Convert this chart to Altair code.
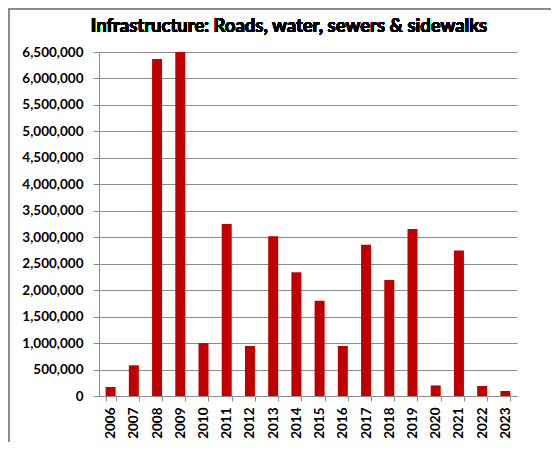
import altair as alt
import pandas as pd

years = [str(y) for y in range(2006, 2024)]
values = [170000, 580000, 6370000, 6500000, 1000000, 3250000, 945000, 3020000,
          2340000, 1800000, 945000, 2860000, 2190000, 3155000, 200000, 2750000,
          189000, 95000]
y_ticks = list(range(0, 6500001, 500000))
title_text = "Infrastructure: Roads, water, sewers & sidewalks"

df = pd.DataFrame({"year": years, "value": values})

FONT = "Lato"

bars = alt.Chart(df).mark_bar(color="#C00000").encode(
    x=alt.X("year:N", sort=years,
            scale=alt.Scale(paddingInner=0.57, paddingOuter=0.285),
            axis=alt.Axis(title=None, labelAngle=270, labelAlign="right",
                          labelBaseline="middle", tickBand="extent",
                          tickSize=5, labelPadding=6, grid=False,
                          domainColor="#8c8c8c", tickColor="#8c8c8c")),
    y=alt.Y("value:Q", scale=alt.Scale(domain=[0, 6500000], nice=False),
            axis=alt.Axis(title=None, values=y_ticks, format=",d",
                          tickSize=6, labelPadding=10, grid=True,
                          gridColor="#8c8c8c", gridWidth=1,
                          domainColor="#8c8c8c", tickColor="#8c8c8c")),
)

frame = alt.Chart(df).mark_rect(fill=None, stroke="#8c8c8c", strokeWidth=2,
                                clip=False).encode(
    x=alt.value(-90), x2=alt.value(480), y=alt.value(-43), y2=alt.value(420))

title = alt.Chart(df).mark_text(
    text=title_text, font=FONT, fontSize=18.5, fontWeight="bold",
    color="#000000", align="center", baseline="alphabetic", clip=False,
).encode(x=alt.value(190), y=alt.value(-20))

chart = alt.layer(frame, bars, title).properties(
    width=418, height=344,
    autosize=alt.AutoSizeParams(type="none"),
    padding={"left": 91, "top": 44, "right": 34, "bottom": 46},
).configure_axis(
    labelFont=FONT, labelFontSize=13.5, labelFontWeight="bold",
    labelColor="#000000",
).configure_view(stroke=None)

chart.save("out.html", embed_options={"renderer": "svg", "actions": False})
